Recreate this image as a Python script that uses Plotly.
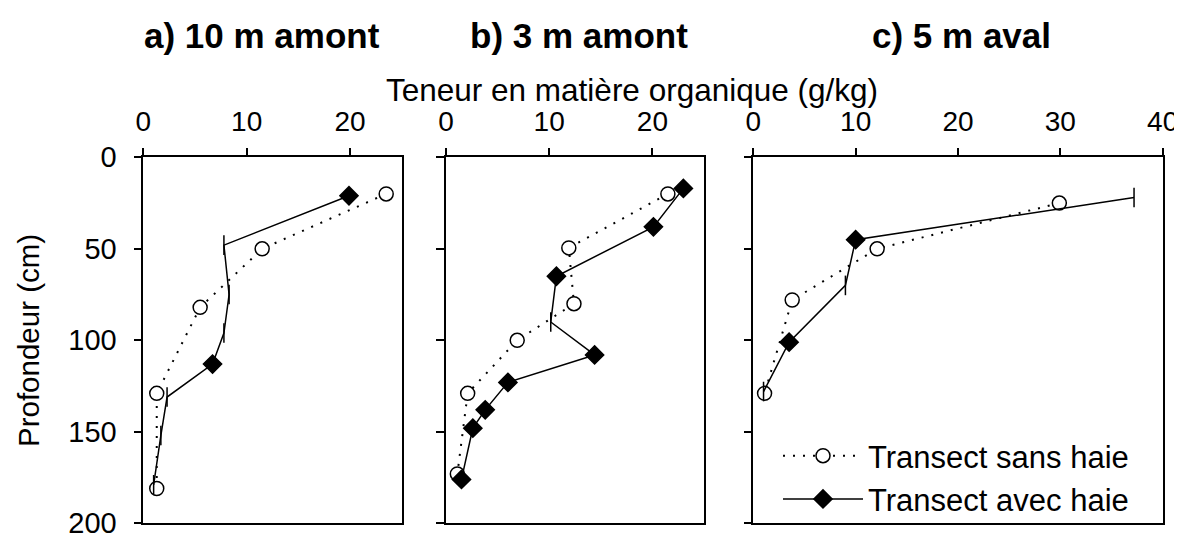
import plotly.graph_objects as go

# ---------------- data ----------------
panel_titles = ["a) 10 m amont", "b) 3 m amont", "c) 5 m aval"]
x_title = "Teneur en matière organique (g/kg)"
y_title = "Profondeur (cm)"
series_names = ["Transect sans haie", "Transect avec haie"]

x_ranges = [[0, 25], [0, 25], [0, 40]]
x_ticks = [[0, 10, 20], [0, 10, 20], [0, 10, 20, 30, 40]]
y_ticks = [0, 50, 100, 150, 200]

# panel a
sans_a_x = [23.5, 11.5, 5.5, 1.3, 1.3]
sans_a_y = [20, 50, 82, 129, 181]
avec_a_x = [19.9, 7.8, 8.3, 7.8, 6.7, 2.3, 1.7, 1.0]
avec_a_y = [21, 48, 75, 96, 113, 131, 152, 179]

# panel b
sans_b_x = [21.5, 11.9, 12.4, 6.9, 2.1, 1.1]
sans_b_y = [20, 49.5, 80, 100, 129, 173]
avec_b_x = [23.0, 20.1, 10.7, 10.15, 14.4, 6.0, 3.8, 2.6, 1.5]
avec_b_y = [17, 38, 65, 90, 108, 123, 138, 148, 176]

# panel c
sans_c_x = [29.9, 12.1, 3.8, 1.1]
sans_c_y = [25, 50, 78, 129]
avec_c_x = [37.2, 10.0, 9.0, 3.5, 1.0]
avec_c_y = [22, 45, 70, 101, 128]

# ---------------- styles ----------------
OFF = 8  # default page body margin
W, H = 1182, 536
FONT = "Liberation Sans, Arial, sans-serif"
D, T = "diamond", "line-ns"
avec_symbols = [
    [D, T, T, T, D, T, T, T],
    [D, D, D, T, D, D, D, D, D],
    [T, D, T, D, T],
]

# pixel layout of the three frames (in screenshot pixels)
frames_px = [(143.3, 401.7), (446.0, 704.0), (753.3, 1162.7)]
y_top_px, y_bot_px = 157.3, 523.3


def px_x(p):
    return (p - OFF) / W


def px_y(p):
    return 1 - (p - OFF) / H


panels = [
    (sans_a_x, sans_a_y, avec_a_x, avec_a_y),
    (sans_b_x, sans_b_y, avec_b_x, avec_b_y),
    (sans_c_x, sans_c_y, avec_c_x, avec_c_y),
]

fig = go.Figure()

for i, (sx, sy, ax_, ay) in enumerate(panels):
    xa = "x" if i == 0 else f"x{i+1}"
    ya = "y" if i == 0 else f"y{i+1}"
    fig.add_trace(go.Scatter(
        x=sx, y=sy, xaxis=xa, yaxis=ya, mode="lines+markers",
        name=series_names[0], showlegend=(i == 0), legendrank=1,
        line=dict(color="black", width=2, dash="2px,8px"),
        marker=dict(symbol="circle", size=14, color="white",
                    line=dict(color="black", width=1.5)),
    ))
    fig.add_trace(go.Scatter(
        x=ax_, y=ay, xaxis=xa, yaxis=ya, mode="lines+markers",
        name=series_names[1], showlegend=(i == 0), legendrank=2,
        line=dict(color="black", width=1.5),
        marker=dict(symbol=avec_symbols[i], size=14, color="black",
                    line=dict(color="black", width=1.5)),
    ))

layout = dict(
    width=W, height=H,
    margin=dict(l=0, r=0, t=0, b=0),
    paper_bgcolor="white", plot_bgcolor="white",
    font=dict(family=FONT, color="black", size=28),
    showlegend=True,
    legend=dict(x=px_x(778), y=px_y(477.5), xanchor="left", yanchor="middle",
                bgcolor="rgba(0,0,0,0)", font=dict(size=31, family=FONT),
                itemwidth=80, tracegroupgap=0),
)

for i in range(3):
    xk = "xaxis" if i == 0 else f"xaxis{i+1}"
    yk = "yaxis" if i == 0 else f"yaxis{i+1}"
    ya = "y" if i == 0 else f"y{i+1}"
    xa = "x" if i == 0 else f"x{i+1}"
    x0, x1 = frames_px[i]
    layout[xk] = dict(
        domain=[px_x(x0), px_x(x1)], anchor=ya, side="top",
        range=x_ranges[i], tickvals=x_ticks[i],
        showline=True, linecolor="black", linewidth=1.5, mirror=True,
        ticks="outside", ticklen=8, tickwidth=1.5, tickcolor="black",
        showgrid=False, zeroline=False, automargin=False,
        tickfont=dict(size=28, family=FONT, color="black"),
        ticklabelstandoff=5, ticklabeloverflow="allow",
    )
    layout[yk] = dict(
        domain=[px_y(y_bot_px), px_y(y_top_px)], anchor=xa,
        range=[200, 0], tickvals=y_ticks,
        showline=True, linecolor="black", linewidth=1.5, mirror=True,
        ticks="outside", ticklen=8, tickwidth=1.5, tickcolor="black",
        showgrid=False, zeroline=False, automargin=False,
        showticklabels=(i == 0),
        tickfont=dict(size=29, family=FONT, color="black"),
        ticklabelstandoff=11, ticklabeloverflow="allow",
    )

title_centers = [262, 579, 961]
annotations = []
for t, cx in zip(panel_titles, title_centers):
    annotations.append(dict(
        text=f"<b>{t}</b>", x=px_x(cx), y=px_y(35), xref="paper", yref="paper",
        xanchor="center", yanchor="middle", showarrow=False,
        font=dict(size=35, family=FONT, color="black"),
    ))
annotations.append(dict(
    text=x_title, x=px_x(631.5), y=px_y(90), xref="paper", yref="paper",
    xanchor="center", yanchor="middle", showarrow=False,
    font=dict(size=31.5, family=FONT, color="black"),
))
annotations.append(dict(
    text=y_title, x=px_x(28), y=px_y(341), xref="paper", yref="paper",
    xanchor="center", yanchor="middle", showarrow=False, textangle=-90,
    font=dict(size=29.5, family=FONT, color="black"),
))
layout["annotations"] = annotations

fig.update_layout(**layout)
fig.write_html("out.html")
